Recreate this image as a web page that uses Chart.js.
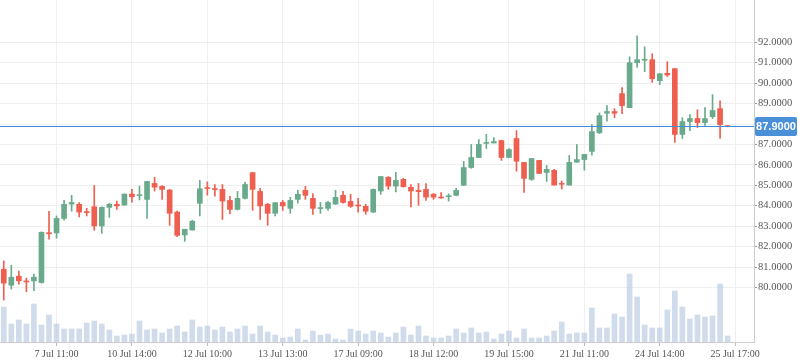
<!DOCTYPE html>
<html>
<head>
<meta charset="utf-8">
<script src="https://cdn.jsdelivr.net/npm/chart.js@4.4.1/dist/chart.umd.min.js"></script>
<style>
  html, body { margin: 0; padding: 0; background: #ffffff; }
  #wrap { width: 798px; height: 363px; position: relative; }
</style>
</head>
<body>
<div id="wrap"><canvas id="c" width="798" height="363"></canvas></div>
<script>
// ---- data ----
const tickLabels = ['7 Jul 11:00', '10 Jul 14:00', '12 Jul 10:00', '13 Jul 13:00', '17 Jul 09:00',
                    '18 Jul 12:00', '19 Jul 15:00', '21 Jul 11:00', '24 Jul 14:00', '25 Jul 17:00'];
const slotCount = 100;      // candle slots on the time axis (last 3 empty)
const tickEvery = 10;
const tickStart = 7;

const opens = [80.89,80.11,80.55,80.30,80.32,80.24,82.67,82.67,83.38,84.08,
               84.07,83.70,83.95,83.01,83.92,84.07,84.03,84.57,84.49,84.31,
               85.09,84.95,84.77,83.69,82.57,82.81,84.12,84.88,84.82,84.80,
               84.26,83.82,84.36,85.62,84.70,84.07,83.63,84.16,83.87,84.31,
               84.75,84.36,83.86,83.87,84.08,84.51,84.21,84.01,83.97,83.69,
               84.72,85.39,84.96,85.29,84.90,84.75,84.80,84.56,84.40,84.44,
               84.51,85.00,85.87,86.36,87.05,87.07,87.19,86.36,87.29,86.12,
               85.29,86.22,85.63,85.73,85.07,85.01,86.13,86.26,86.66,87.57,
               88.53,88.61,89.49,88.80,91.00,91.12,91.15,90.12,90.48,90.71,
               87.49,88.12,88.27,88.07,88.36,88.75,87.90];
const highs = [81.30,81.09,80.80,80.45,80.65,82.72,83.73,83.50,84.26,84.51,
               84.15,83.87,84.99,83.95,84.12,84.23,84.58,84.80,84.96,85.20,
               85.39,84.99,84.80,83.74,82.85,83.29,85.24,85.17,85.04,85.04,
               84.46,84.70,85.14,85.63,84.85,84.12,84.15,84.26,84.41,84.75,
               84.95,84.60,84.16,84.21,84.75,84.70,84.56,84.36,84.07,84.82,
               85.43,85.43,85.63,85.34,85.04,85.09,85.09,84.60,84.64,84.58,
               84.85,86.17,87.00,87.24,87.49,87.34,87.20,86.80,87.68,86.12,
               86.31,86.22,85.97,85.78,85.21,86.46,87.00,86.51,87.97,88.54,
               88.90,88.75,89.78,91.29,92.32,91.78,91.44,90.46,91.05,90.71,
               88.31,88.46,88.70,88.80,89.44,89.14,87.92];
const lows = [79.38,79.92,80.16,79.79,79.84,80.21,82.36,82.41,83.29,83.73,
              83.45,83.50,82.80,82.65,83.43,83.82,84.03,84.18,84.28,83.38,
              84.72,84.31,83.04,82.49,82.26,82.81,83.50,84.52,84.47,83.33,
              83.60,83.79,84.33,83.77,83.33,83.04,83.50,83.77,83.63,84.12,
              84.31,83.58,83.63,83.77,84.07,84.12,83.92,83.68,83.58,83.66,
              84.56,84.80,84.67,84.91,83.94,84.02,84.26,84.31,84.36,84.23,
              84.48,85.00,85.83,86.36,86.80,87.07,86.22,86.36,85.69,84.65,
              85.24,85.58,85.19,85.01,84.82,85.01,86.13,85.74,86.48,87.53,
              88.14,88.31,88.51,88.80,90.77,90.56,90.04,89.93,90.32,87.10,
              87.29,87.68,87.83,87.93,88.27,87.29,87.86];
const closes = [80.21,80.50,80.32,80.27,80.50,82.70,82.63,83.38,84.07,84.16,
                83.69,83.66,83.01,83.92,84.07,83.99,84.57,84.44,84.52,85.19,
                84.91,84.80,83.63,82.55,82.85,83.24,84.83,84.84,84.79,84.23,
                83.82,84.36,85.04,84.80,83.99,83.63,84.15,83.99,84.26,84.56,
                84.51,83.87,83.88,84.16,84.41,84.16,83.97,83.99,83.73,84.80,
                85.43,84.96,85.24,84.93,84.72,84.69,84.42,84.42,84.38,84.47,
                84.75,85.87,86.36,87.00,87.09,87.14,86.36,86.75,86.18,85.34,
                86.31,85.58,85.78,85.01,85.05,86.12,86.26,86.51,87.63,88.41,
                88.61,88.53,88.90,91.00,91.15,91.15,90.22,90.46,90.40,87.49,
                88.12,88.27,88.07,88.27,88.66,87.97,87.87];
const volumes = [3500,1800,2200,1800,3800,1700,2700,1800,1300,1300,
                 1300,1900,2100,1800,1200,600,700,800,2100,1200,
                 1300,900,1300,1600,1000,2200,1500,1600,1200,1500,
                 1000,1300,1600,800,1600,1000,700,400,500,1300,
                 200,1100,700,800,300,200,1300,1100,800,1100,
                 900,500,900,1500,700,1600,600,400,400,600,
                 1300,900,1400,900,1000,300,800,1100,400,1300,
                 400,400,600,1100,2000,800,900,900,3400,1400,
                 1400,2800,2500,6800,4500,1700,1400,1400,3200,5100,
                 3500,2300,2700,2500,2600,5800,600];
const lastPrice = 87.9;
const priceTicks = [80,81,82,83,84,85,86,87,88,89,90,91,92];
const priceMin = 77.33, priceMax = 94.07;
const volumeMax = 34200;

// ---- derived structures for the library ----
const labels = [];
for (let i = 0; i < slotCount; i++) {
  const k = i - tickStart;
  labels.push(k >= 0 && k % tickEvery === 0 ? tickLabels[k / tickEvery] : '');
}
const GREEN = '#6aaa8c', RED = '#ee5f4f';
const candleColors = opens.map((o, i) => closes[i] >= o ? GREEN : RED);
const wickData = lows.map((l, i) => [l, highs[i]]);
const bodyData = opens.map((o, i) => [Math.min(o, closes[i]), Math.max(o, closes[i])]);

const lastPricePlugin = {
  id: 'lastPrice',
  afterDraw(chart) {
    const ctx = chart.ctx, area = chart.chartArea, ys = chart.scales.y;
    const y = Math.round(ys.getPixelForValue(lastPrice)) + 0.5;
    ctx.save();
    ctx.strokeStyle = '#3f8ad8';
    ctx.lineWidth = 1;
    ctx.beginPath();
    ctx.moveTo(area.left, y);
    ctx.lineTo(area.right, y);
    ctx.stroke();
    const bx = area.right + 1, bw = 797 - bx, bh = 19, by = Math.round(y - 9.5);
    ctx.fillStyle = '#4a90d9';
    ctx.beginPath();
    if (ctx.roundRect) ctx.roundRect(bx, by, bw, bh, 2); else ctx.rect(bx, by, bw, bh);
    ctx.fill();
    ctx.fillStyle = '#ffffff';
    ctx.font = 'bold 11px "Liberation Sans", sans-serif';
    ctx.textAlign = 'center';
    ctx.textBaseline = 'middle';
    ctx.fillText(lastPrice.toFixed(4), bx + bw / 2, by + bh / 2 + 0.5);
    ctx.restore();
  }
};

new Chart(document.getElementById('c'), {
  type: 'bar',
  data: {
    labels: labels,
    datasets: [
      { label: 'body', data: bodyData, backgroundColor: candleColors, borderWidth: 0,
        barThickness: 5, minBarLength: 1, grouped: false, order: 1, yAxisID: 'y' },
      { label: 'wick', data: wickData, backgroundColor: candleColors, borderWidth: 0,
        barThickness: 1, minBarLength: 1, grouped: false, order: 2, yAxisID: 'y' },
      { label: 'volume', data: volumes, backgroundColor: 'rgba(176,196,222,0.6)', borderWidth: 0,
        barThickness: 5, grouped: false, order: 3, yAxisID: 'yv' }
    ]
  },
  options: {
    responsive: false,
    animation: false,
    layout: { padding: 0 },
    plugins: { legend: { display: false }, tooltip: { enabled: false } },
    scales: {
      x: {
        type: 'category',
        offset: true,
        grid: {
          offset: false,
          color: c => (c.tick && c.tick.label) ? '#efefef' : 'rgba(0,0,0,0)',
          tickColor: c => (c.tick && c.tick.label) ? '#bbbbbb' : 'rgba(0,0,0,0)',
          tickLength: 4
        },
        border: { color: '#cccccc' },
        ticks: {
          autoSkip: false, maxRotation: 0, minRotation: 0, padding: 2,
          color: '#555555', font: { family: '"Liberation Serif", serif', size: 10 }
        },
        afterFit: s => { s.height = 21; s.paddingLeft = 0; s.paddingRight = 0; }
      },
      y: {
        position: 'right',
        min: priceMin, max: priceMax,
        afterBuildTicks: s => { s.ticks = priceTicks.map(v => ({ value: v })); },
        grid: { color: '#efefef', tickColor: '#999999', tickLength: 3 },
        border: { color: '#cccccc' },
        ticks: {
          padding: 1, color: '#555555',
          font: { family: '"Liberation Serif", serif', size: 10.5 },
          callback: v => Number(v).toFixed(4)
        },
        afterFit: s => { s.width = 44; s.paddingTop = 0; s.paddingBottom = 0; }
      },
      yv: {
        display: false, min: 0, max: volumeMax
      }
    }
  },
  plugins: [lastPricePlugin]
});
</script>
</body>
</html>
